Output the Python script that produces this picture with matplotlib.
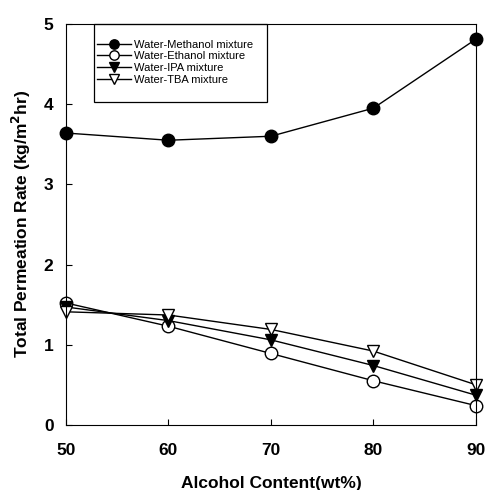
import matplotlib
matplotlib.use("Agg")
import matplotlib.pyplot as plt
from matplotlib.patches import Rectangle

# alcohol content (wt%)
alcohol = [50, 60, 70, 80, 90]
methanol = [3.64, 3.55, 3.60, 3.95, 4.81]
ethanol = [1.52, 1.23, 0.89, 0.55, 0.24]
ipa = [1.47, 1.30, 1.06, 0.74, 0.37]
tba = [1.41, 1.37, 1.19, 0.92, 0.50]

plt.rcParams['font.family'] = ['Liberation Sans', 'DejaVu Sans']

fig = plt.figure(figsize=(4.89, 4.90), dpi=100)
ax = fig.add_axes([0.135, 0.133, 0.838, 0.818])

ms = 9
ax.plot(alcohol, methanol, '-o', color='black', mfc='black', ms=ms, lw=1, label='Water-Methanol mixture', clip_on=False)
ax.plot(alcohol, ethanol, '-o', color='black', mfc='white', ms=ms, lw=1, label='Water-Ethanol mixture', clip_on=False)
ax.plot(alcohol, ipa, '-v', color='black', mfc='black', ms=ms, lw=1, label='Water-IPA mixture', clip_on=False)
ax.plot(alcohol, tba, '-v', color='black', mfc='white', ms=ms, lw=1, label='Water-TBA mixture', clip_on=False)

ax.set_xlim(50, 90)
ax.set_ylim(0, 5)
ax.set_xticks([50, 60, 70, 80, 90])
ax.set_yticks([0, 1, 2, 3, 4, 5])
ax.tick_params(direction='in', length=4, labelsize=12.5)
ax.tick_params(axis='x', pad=13)
ax.tick_params(axis='y', pad=9)
for lab in ax.get_xticklabels() + ax.get_yticklabels():
    lab.set_fontweight('bold')

ax.set_xlabel('Alcohol Content(wt%)', fontsize=12.5, fontweight='bold', labelpad=13)
ax.set_ylabel('Total Permeation Rate (kg/m$^\\mathbf{2}$hr)', fontsize=12.5, fontweight='bold', labelpad=8)

# legend box drawn separately, taller than the entries
ax.add_patch(Rectangle((0.068, 0.805), 0.422, 0.195, transform=ax.transAxes,
                       fill=False, edgecolor='black', lw=0.9, clip_on=False))
leg = ax.legend(loc='center left', bbox_to_anchor=(0.068, 0.905), fontsize=8, frameon=False,
                borderaxespad=0, borderpad=0.3, handlelength=3.0, handletextpad=0.3,
                labelspacing=0.15, markerscale=0.75)

fig.savefig('out.png', dpi=100)
